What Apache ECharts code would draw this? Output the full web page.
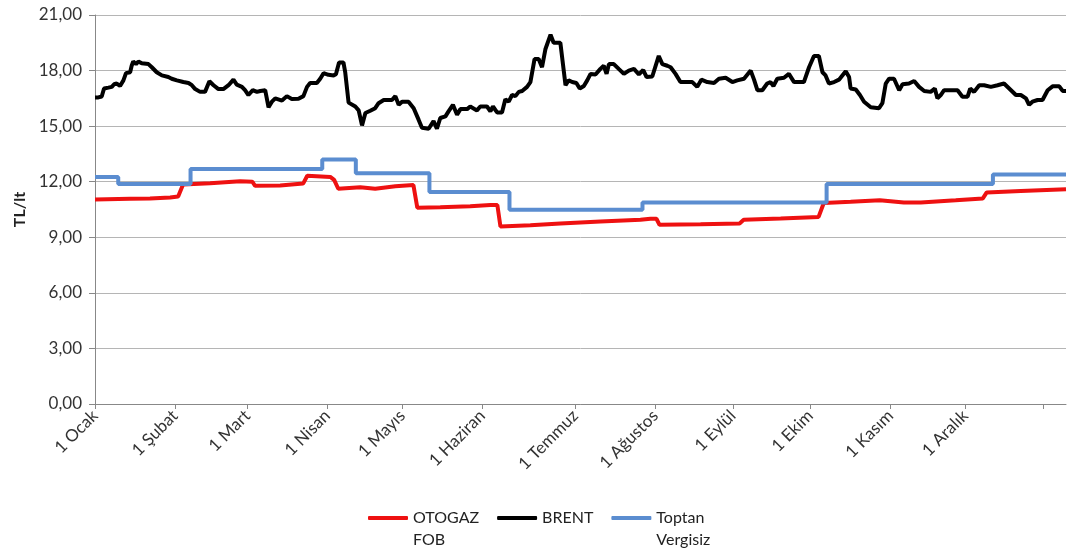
<!DOCTYPE html>
<html>
<head>
<meta charset="utf-8">
<script src="https://cdn.jsdelivr.net/npm/echarts@6/dist/echarts.min.js"></script>
<style>
  html, body { margin: 0; padding: 0; background: #fff; }
  #chart { width: 1067px; height: 551px; }
</style>
</head>
<body>
<div id="chart"></div>
<script>
// x = gün sırası (0 = 1 Ocak), ay başlarının yerleri
const monthTicks = [0, 31, 59, 90, 119, 150, 186, 217, 247, 277, 308, 337, 367]
const monthLabels = ['1 Ocak', '1 Şubat', '1 Mart', '1 Nisan', '1 Mayıs', '1 Haziran',
  '1 Temmuz', '1 Ağustos', '1 Eylül', '1 Ekim', '1 Kasım', '1 Aralık']

const otogaz = [
  [0, 11.04], [13.6, 11.08], [21.3, 11.1], [29.1, 11.15], [32.2, 11.2], [34.1, 11.85],
  [44.6, 11.92], [56.2, 12.03], [60.9, 12.0], [62, 11.78], [71.7, 11.8], [80.6, 11.9],
  [82.2, 12.32], [91.1, 12.26], [92.6, 12.1], [94.2, 11.62], [102.7, 11.7], [108.5, 11.62],
  [116.3, 11.75], [123.3, 11.82], [124.8, 10.6], [133.7, 10.62], [145.3, 10.68], [153.1, 10.74],
  [155.8, 10.74], [157, 9.58], [168.6, 9.65], [180.2, 9.75], [195.7, 9.85], [211.2, 9.95],
  [215.1, 10.0], [217.4, 10.0], [218.6, 9.67], [234.5, 9.7], [249.6, 9.75], [251.2, 9.95],
  [265.5, 10.02], [280.2, 10.1], [282.2, 10.85], [292.6, 10.92], [303.9, 11.0], [313.2, 10.88],
  [319.8, 10.88], [333.3, 11.0], [343.8, 11.1], [345.3, 11.42], [358.5, 11.5], [376, 11.59]
]

const brent = [
  [0, 16.55], [1.3, 16.55], [2.6, 16.6], [3.5, 17.03], [5.2, 17.08], [6.5, 17.12], [7.4, 17.26],
  [8.4, 17.3], [9.7, 17.17], [11, 17.47], [12, 17.86], [13.6, 17.91], [14.2, 18.26], [14.8, 18.49],
  [15.9, 18.35], [16.8, 18.49], [18.1, 18.39], [20.7, 18.35], [22, 18.18], [23.9, 17.91],
  [25.9, 17.74], [28.4, 17.65], [29.7, 17.56], [31.7, 17.47], [34.2, 17.38], [36.2, 17.33],
  [37.5, 17.21], [38.8, 17.0], [40.7, 16.85], [42.6, 16.85], [44.3, 17.42], [45.9, 17.21],
  [47.8, 17.0], [49.7, 17.0], [51.7, 17.21], [53.6, 17.51], [54.9, 17.24], [56.9, 17.12],
  [58.1, 16.94], [59.4, 16.68], [61.1, 16.94], [62.7, 16.85], [64, 16.9], [65.9, 16.94],
  [67.2, 16.02], [68.5, 16.32], [69.8, 16.5], [72.4, 16.38], [74.3, 16.62], [76.2, 16.47],
  [78.8, 16.48], [80.7, 16.62], [82.1, 17.12], [83.3, 17.33], [85.9, 17.33], [87.2, 17.56],
  [88.5, 17.86], [90.4, 17.77], [92.4, 17.74], [93.3, 17.8], [94.5, 18.44], [96.2, 18.44],
  [96.9, 17.9], [98.2, 16.27], [100.8, 16.06], [102.1, 15.85], [103.4, 15.04], [104.7, 15.71],
  [106.6, 15.83], [108.5, 15.97], [109.8, 16.24], [111.8, 16.41], [115, 16.41], [116.3, 16.62],
  [117.6, 16.15], [118.9, 16.32], [121.4, 16.32], [123.4, 15.97], [125.3, 15.35], [126.6, 14.91],
  [129.2, 14.86], [131.1, 15.27], [132.4, 14.86], [133.7, 15.44], [135.7, 15.53], [136.9, 15.8],
  [138.6, 16.15], [140.2, 15.62], [141.5, 15.92], [144.1, 15.92], [145.3, 16.06], [147.9, 15.85],
  [149.2, 16.06], [151.8, 16.06], [153.1, 15.8], [154.1, 16.06], [155.7, 15.74], [157.6, 15.74],
  [158.9, 16.45], [160.2, 16.32], [161.5, 16.68], [162.8, 16.62], [164.1, 16.85], [165.4, 16.9],
  [167.3, 17.12], [168.6, 17.38], [170.2, 18.62], [171.8, 18.62], [173.1, 18.18], [174.4, 19.15],
  [175.1, 19.15], [176.4, 19.94], [177.6, 19.5], [180.2, 19.5], [180.9, 19.4], [182.2, 17.21],
  [183.4, 17.47], [184.8, 17.38], [186.4, 17.33], [187.7, 17.03], [189.3, 17.17], [190.6, 17.47],
  [191.9, 17.82], [193.8, 17.79], [195.7, 18.09], [197, 18.26], [198.1, 17.82], [199, 18.35],
  [200.9, 18.35], [202.8, 18.09], [204.8, 17.82], [206.7, 18.0], [208.7, 18.09], [210.6, 17.79],
  [212.3, 18.03], [213.6, 17.65], [215.8, 17.68], [218.3, 18.79], [219.7, 18.35], [221.6, 18.26],
  [222.9, 18.18], [224.8, 17.82], [226.7, 17.38], [229.3, 17.38], [231.3, 17.38], [233.2, 17.12],
  [234.8, 17.51], [237.1, 17.38], [239.7, 17.33], [241.6, 17.56], [244.2, 17.61], [246.8, 17.38],
  [248.7, 17.47], [251.3, 17.56], [253.9, 18.0], [255.2, 17.51], [256.5, 16.94], [258.4, 16.94],
  [260.3, 17.3], [261.6, 17.38], [262.7, 17.17], [264.2, 17.56], [266.8, 17.61], [268.7, 17.82],
  [270.7, 17.38], [274.5, 17.38], [276.5, 18.18], [278.4, 18.79], [280.3, 18.79], [281.7, 17.91],
  [282.9, 17.74], [284.2, 17.3], [286.2, 17.38], [288.1, 17.51], [290.7, 17.96], [292, 17.65],
  [292.6, 17.03], [294.6, 16.98], [296.2, 16.68], [297.8, 16.32], [300.4, 16.02], [303.6, 15.97],
  [304.9, 16.24], [306.2, 17.3], [307.5, 17.56], [309.4, 17.56], [311.4, 16.94], [312.7, 17.26],
  [315.2, 17.3], [317.2, 17.44], [319.1, 17.12], [321.1, 16.9], [323.6, 16.85], [325.2, 17.03],
  [326.2, 16.5], [327.5, 16.68], [328.8, 16.94], [334, 16.94], [335.9, 16.59], [337.9, 16.59],
  [338.9, 17.03], [340.4, 16.85], [342.4, 17.21], [344.3, 17.21], [346.9, 17.12], [349.5, 17.21],
  [352, 17.3], [354.7, 16.94], [356.6, 16.68], [358.5, 16.68], [360.5, 16.5], [361.7, 16.15],
  [363, 16.32], [365, 16.41], [366.9, 16.41], [368.9, 16.94], [370.8, 17.15], [373.4, 17.15],
  [374.7, 16.9], [376, 16.9]
]

// basamaklı seri: her noktada yeni fiyat başlar
const toptan = [
  [0, 12.26], [9, 11.88], [37, 12.68], [88, 13.2], [101, 12.46], [129.5, 11.45],
  [160.5, 10.48], [212, 10.88], [283.3, 11.87], [347.7, 12.39], [376, 12.39]
]

const yTicks = { min: 0, max: 21, interval: 3 }

const chart = echarts.init(document.getElementById('chart'))
const font = 'Lato, "Open Sans", sans-serif'

const option = {
  animation: false,
  grid: {
    left: 95,
    right: 1,
    top: 15,
    bottom: 147
  },
  legend: {
    left: 368,
    top: 485,
    padding: 0,
    icon: 'roundRect',
    itemWidth: 40,
    itemHeight: 4,
    itemGap: 18,
    textStyle: {
      fontFamily: font,
      fontSize: 16,
      color: '#222',
      lineHeight: 22
    },
    // boş ilk satır: ikon ilk satırla aynı hizada kalsın
    formatter(name) {
      return name.indexOf(' ') > 0 ? '\n' + name.replace(' ', '\n') : name
    },
    data: ['OTOGAZ FOB', 'BRENT', 'Toptan Vergisiz']
  },
  xAxis: {
    type: 'value',
    min: 0,
    max: 376,
    axisLine: {
      lineStyle: { color: '#888' }
    },
    axisTick: {
      show: true,
      length: 5,
      customValues: monthTicks,
      lineStyle: { color: '#888' }
    },
    splitLine: { show: false },
    axisLabel: {
      rotate: 45,
      margin: 9,
      fontFamily: font,
      fontSize: 17,
      color: '#333',
      customValues: monthTicks.slice(0, 12),
      formatter(value) {
        const i = monthTicks.indexOf(value)
        return i >= 0 ? monthLabels[i] : ''
      }
    }
  },
  yAxis: {
    type: 'value',
    min: yTicks.min,
    max: yTicks.max,
    interval: yTicks.interval,
    name: 'TL/lt',
    nameLocation: 'middle',
    nameRotate: 90,
    nameGap: 64,
    nameTextStyle: {
      fontFamily: font,
      fontSize: 16,
      fontWeight: 'bold',
      color: '#222'
    },
    axisLine: {
      show: true,
      lineStyle: { color: '#888' }
    },
    axisTick: {
      show: true,
      length: 6,
      lineStyle: { color: '#888' }
    },
    splitLine: {
      lineStyle: { color: '#b5b5b5', width: 1 }
    },
    axisLabel: {
      margin: 13,
      fontFamily: font,
      fontSize: 17,
      color: '#333',
      formatter(value) {
        return value.toFixed(2).replace('.', ',')
      }
    }
  },
  series: [
    {
      name: 'OTOGAZ FOB',
      type: 'line',
      symbol: 'none',
      data: otogaz,
      lineStyle: { color: '#ee1111', width: 4 },
      itemStyle: { color: '#ee1111' }
    },
    {
      name: 'BRENT',
      type: 'line',
      symbol: 'none',
      data: brent,
      lineStyle: { color: '#000', width: 4 },
      itemStyle: { color: '#000' }
    },
    {
      name: 'Toptan Vergisiz',
      type: 'line',
      symbol: 'none',
      step: 'end',
      data: toptan,
      lineStyle: { color: '#5b8dd0', width: 4 },
      itemStyle: { color: '#5b8dd0' }
    }
  ]
}

chart.setOption(option)
</script>
</body>
</html>
